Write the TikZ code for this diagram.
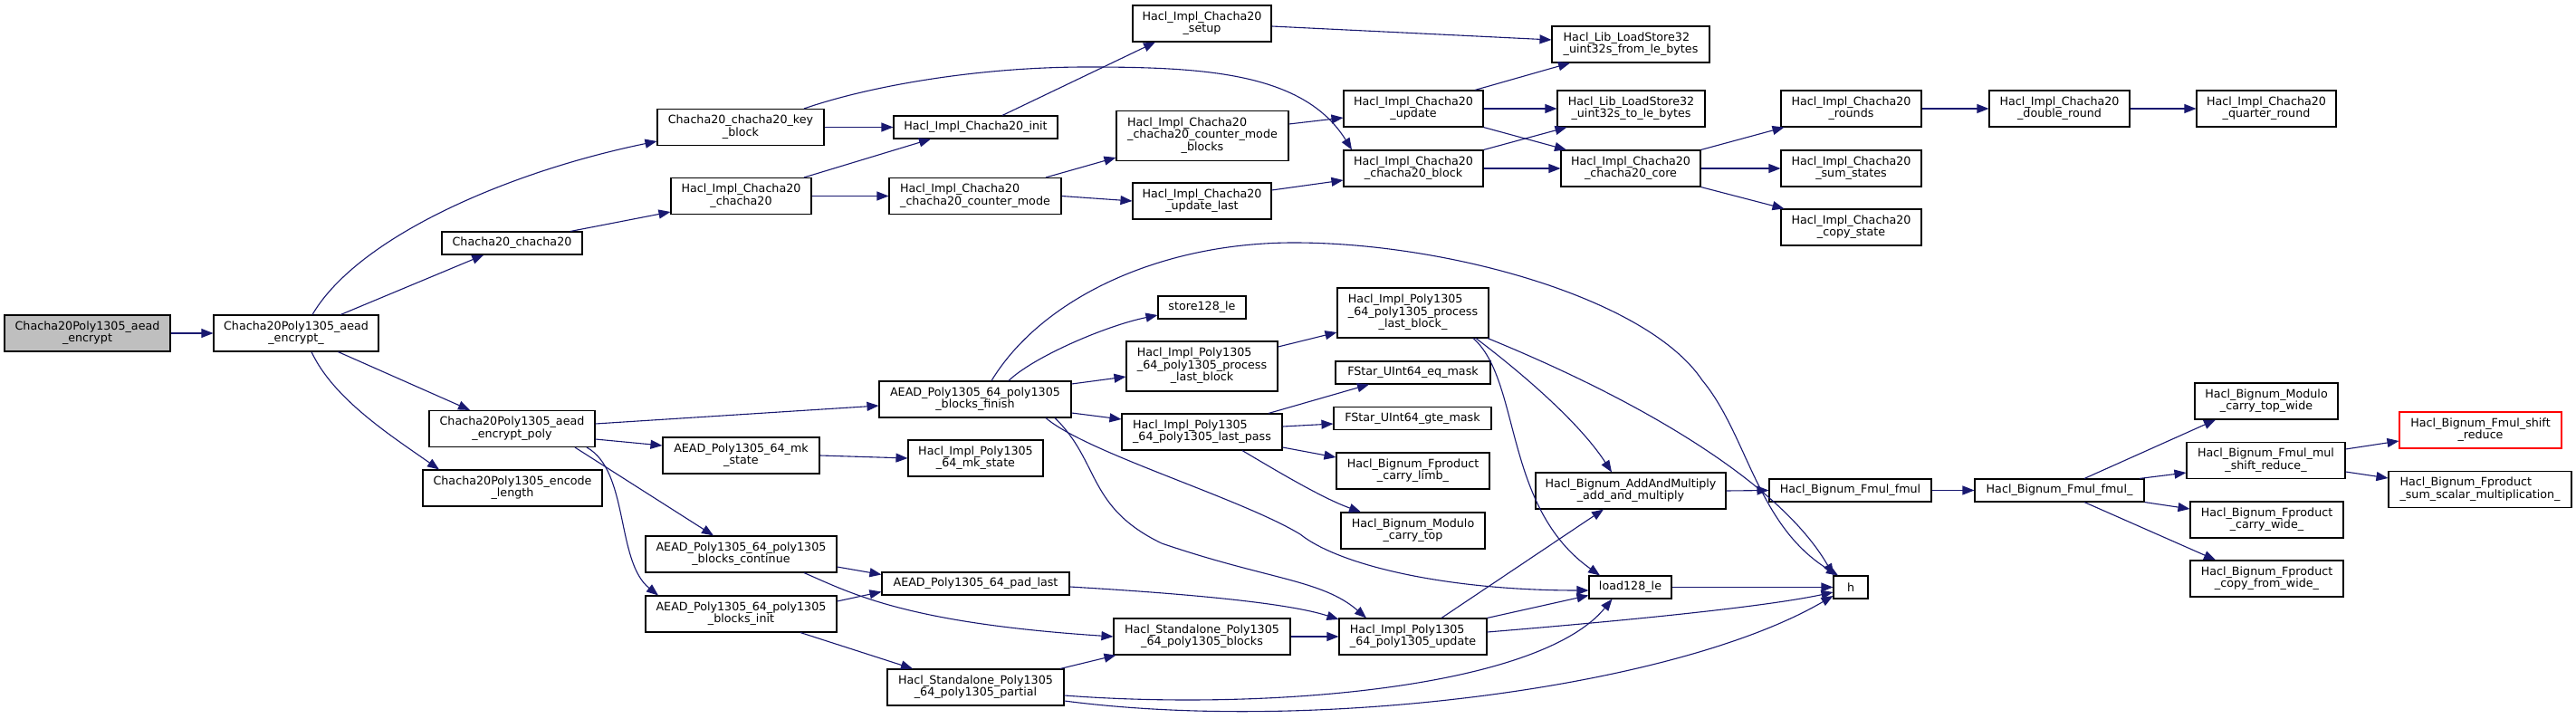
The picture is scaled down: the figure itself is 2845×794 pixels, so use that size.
\documentclass[tikz,border=0pt]{standalone}
\usepackage{fontspec}
\setmainfont{DejaVu Sans}
\usetikzlibrary{arrows.meta}
\definecolor{edgec}{HTML}{191970}
\definecolor{rootfill}{HTML}{BFBFBF}
\newcommand\mytwo[2]{\begin{tabular}{@{}l@{}}#1\\\multicolumn{1}{@{}c@{}}{#2}\end{tabular}}
\newcommand\mythree[3]{\begin{tabular}{@{}l@{}}#1\\#2\\\multicolumn{1}{@{}c@{}}{#3}\end{tabular}}
\begin{document}
\begin{tikzpicture}[x=1pt,y=-1pt,
  box/.style={draw=black,line width=1.1pt,fill=white,inner sep=0pt,text=black,
    font=\fontsize{12.7}{13.3}\selectfont},
  edg/.style={draw=edgec,line width=1.1pt,-{Triangle[length=13pt,width=10pt]}},
  hA/.style={minimum height=40pt},
  hB/.style={minimum height=25pt},
  hC/.style={minimum height=55pt}]
\path[use as bounding box,fill=white] (0,0) rectangle (2845,794);
% rank 1-2
\node[box,hA,minimum width=183pt,fill=rootfill] (root) at (96.5,368) {\mytwo{Chacha20Poly1305\_aead}{\_encrypt}};
\node[box,hA,minimum width=182pt] (encu) at (327,368) {\mytwo{Chacha20Poly1305\_aead}{\_encrypt\_}};
% rank 3
\node[box,hB,minimum width=155pt] (c20) at (565.5,268.5) {Chacha20\_chacha20};
\node[box,hA,minimum width=183pt] (poly) at (565.5,473.5) {\mytwo{Chacha20Poly1305\_aead}{\_encrypt\_poly}};
\node[box,hA,minimum width=198pt] (enclen) at (566,539) {\mytwo{Chacha20Poly1305\_encode}{\_length}};
% rank 4
\node[box,hA,minimum width=184pt] (keyblk) at (818,140.5) {\mytwo{Chacha20\_chacha20\_key}{\_block}};
\node[box,hA,minimum width=155pt] (ic20) at (818.5,216.5) {\mytwo{Hacl\_Impl\_Chacha20}{\_chacha20}};
\node[box,hA,minimum width=173pt] (mks) at (818.5,503) {\mytwo{AEAD\_Poly1305\_64\_mk}{\_state}};
\node[box,hA,minimum width=211pt] (bcont) at (818.5,612) {\mytwo{AEAD\_Poly1305\_64\_poly1305}{\_blocks\_continue}};
\node[box,hA,minimum width=211pt] (binit) at (818.5,678) {\mytwo{AEAD\_Poly1305\_64\_poly1305}{\_blocks\_init}};
% rank 5
\node[box,hB,minimum width=181pt] (init) at (1077.5,140.5) {Hacl\_Impl\_Chacha20\_init};
\node[box,hA,minimum width=190pt] (cm) at (1077,216.5) {\mytwo{Hacl\_Impl\_Chacha20}{\_chacha20\_counter\_mode}};
\node[box,hA,minimum width=212pt] (bfin) at (1077,441) {\mytwo{AEAD\_Poly1305\_64\_poly1305}{\_blocks\_finish}};
\node[box,hA,minimum width=149pt] (pmks) at (1077.5,506) {\mytwo{Hacl\_Impl\_Poly1305}{\_64\_mk\_state}};
\node[box,hB,minimum width=207pt] (pad) at (1077.5,644.5) {AEAD\_Poly1305\_64\_pad\_last};
\node[box,hA,minimum width=195pt] (spart) at (1077.5,759) {\mytwo{Hacl\_Standalone\_Poly1305}{\_64\_poly1305\_partial}};
% rank 6
\node[box,hA,minimum width=153pt] (setup) at (1327.5,26) {\mytwo{Hacl\_Impl\_Chacha20}{\_setup}};
\node[box,hC,minimum width=190pt] (cmb) at (1328,150) {\mythree{Hacl\_Impl\_Chacha20}{\_chacha20\_counter\_mode}{\_blocks}};
\node[box,hA,minimum width=153pt] (ulast) at (1327.5,222) {\mytwo{Hacl\_Impl\_Chacha20}{\_update\_last}};
\node[box,hB,minimum width=97pt] (st128) at (1327.5,339.5) {store128\_le};
\node[box,hC,minimum width=167pt] (plb) at (1327.5,404.5) {\mythree{Hacl\_Impl\_Poly1305}{\_64\_poly1305\_process}{\_last\_block}};
\node[box,hA,minimum width=177pt] (lpass) at (1327.5,477) {\mytwo{Hacl\_Impl\_Poly1305}{\_64\_poly1305\_last\_pass}};
\node[box,hA,minimum width=195pt] (sblk) at (1327.5,703) {\mytwo{Hacl\_Standalone\_Poly1305}{\_64\_poly1305\_blocks}};
% rank 7
\node[box,hA,minimum width=154pt] (upd) at (1561,120) {\mytwo{Hacl\_Impl\_Chacha20}{\_update}};
\node[box,hA,minimum width=154pt] (blk) at (1561,186) {\mytwo{Hacl\_Impl\_Chacha20}{\_chacha20\_block}};
\node[box,hC,minimum width=167pt] (plbu) at (1560.5,345.5) {\mythree{Hacl\_Impl\_Poly1305}{\_64\_poly1305\_process}{\_last\_block\_}};
\node[box,hB,minimum width=171pt] (eqm) at (1560.5,411.5) {FStar\_UInt64\_eq\_mask};
\node[box,hB,minimum width=174pt] (gtem) at (1560,462) {FStar\_UInt64\_gte\_mask};
\node[box,hA,minimum width=169pt] (climb) at (1560.5,520) {\mytwo{Hacl\_Bignum\_Fproduct}{\_carry\_limb\_}};
\node[box,hA,minimum width=159pt] (mct) at (1560.5,586) {\mytwo{Hacl\_Bignum\_Modulo}{\_carry\_top}};
\node[box,hA,minimum width=163pt] (pupd) at (1560.5,703) {\mytwo{Hacl\_Impl\_Poly1305}{\_64\_poly1305\_update}};
% rank 8
\node[box,hA,minimum width=174pt] (lsfrom) at (1801,49) {\mytwo{Hacl\_Lib\_LoadStore32}{\_uint32s\_from\_le\_bytes}};
\node[box,hA,minimum width=163pt] (lsto) at (1801.5,120) {\mytwo{Hacl\_Lib\_LoadStore32}{\_uint32s\_to\_le\_bytes}};
\node[box,hA,minimum width=154pt] (core) at (1801,186) {\mytwo{Hacl\_Impl\_Chacha20}{\_chacha20\_core}};
\node[box,hA,minimum width=210pt] (aam) at (1801,542) {\mytwo{Hacl\_Bignum\_AddAndMultiply}{\_add\_and\_multiply}};
\node[box,hB,minimum width=91pt] (ld128) at (1800.5,648.5) {load128\_le};
% rank 9
\node[box,hA,minimum width=155pt] (rounds) at (2044.5,120) {\mytwo{Hacl\_Impl\_Chacha20}{\_rounds}};
\node[box,hA,minimum width=155pt] (sums) at (2044.5,186) {\mytwo{Hacl\_Impl\_Chacha20}{\_sum\_states}};
\node[box,hA,minimum width=155pt] (copys) at (2044.5,251) {\mytwo{Hacl\_Impl\_Chacha20}{\_copy\_state}};
\node[box,hB,minimum width=179pt] (fmul) at (2043.5,541.5) {Hacl\_Bignum\_Fmul\_fmul};
\node[box,hB,minimum width=38pt] (h) at (2044,648.5) {h};
% rank 10
\node[box,hA,minimum width=155pt] (dround) at (2274.5,120) {\mytwo{Hacl\_Impl\_Chacha20}{\_double\_round}};
\node[box,hB,minimum width=187pt] (fmulu) at (2274.5,541.5) {Hacl\_Bignum\_Fmul\_fmul\_};
% rank 11
\node[box,hA,minimum width=154pt] (qround) at (2503,120) {\mytwo{Hacl\_Impl\_Chacha20}{\_quarter\_round}};
\node[box,hA,minimum width=158pt] (mctw) at (2503,443) {\mytwo{Hacl\_Bignum\_Modulo}{\_carry\_top\_wide}};
\node[box,hA,minimum width=175pt] (msr) at (2502.5,508.5) {\mytwo{Hacl\_Bignum\_Fmul\_mul}{\_shift\_reduce\_}};
\node[box,hA,minimum width=169pt] (cwide) at (2503.5,574) {\mytwo{Hacl\_Bignum\_Fproduct}{\_carry\_wide\_}};
\node[box,hA,minimum width=169pt] (cfw) at (2503.5,639) {\mytwo{Hacl\_Bignum\_Fproduct}{\_copy\_from\_wide\_}};
% rank 12
\node[box,hA,minimum width=179pt,draw=red] (sred) at (2739.5,475) {\mytwo{Hacl\_Bignum\_Fmul\_shift}{\_reduce}};
\node[box,hA,minimum width=202pt] (ssm) at (2739,540.5) {\mytwo{Hacl\_Bignum\_Fproduct}{\_sum\_scalar\_multiplication\_}};

% edges
\draw[edg] (root.east) -- (encu.west);
\draw[edg] ([xshift=18pt]encu.north) .. controls (395,262) and (560,190) .. ([yshift=-15.5pt]keyblk.west);
\draw[edg] (encu) -- (c20);
\draw[edg] (encu) -- (poly);
\draw[edg] ([xshift=17pt]encu.south) .. controls (368,440) and (430,480) .. ([xshift=-81pt]enclen.north);
\draw[edg] ([xshift=64.5pt]c20.north) -- ([yshift=-17.5pt]ic20.west);
\draw[edg] (keyblk.east) -- (init.west);
\draw[edg] ([xshift=70pt]keyblk.north) .. controls (960,95) and (1080,74) .. (1200,74)
   .. controls (1330,74) and (1440,80) .. ([xshift=-68pt]blk.north);
\draw[edg] ([xshift=69.5pt]ic20.north) -- ([xshift=-49.5pt]init.south);
\draw[edg] (ic20.east) -- (cm.west);
\draw[edg] ([xshift=29.5pt]init.north) -- ([xshift=-51.5pt]setup.south);
\draw[edg] ([yshift=-3pt]setup.east) -- ([yshift=5pt]lsfrom.west);
\draw[edg] ([xshift=78pt]cm.north) -- ([yshift=-24pt]cmb.west);
\draw[edg] (cm.east) -- (ulast.west);
\draw[edg] ([yshift=13pt]cmb.east) -- ([yshift=-10pt]upd.west);
\draw[edg] ([yshift=12pt]ulast.east) -- ([yshift=-13pt]blk.west);
\draw[edg] ([xshift=68pt]upd.north) -- ([xshift=-67pt]lsfrom.south);
\draw[edg] (upd.east) -- (lsto.west);
\draw[edg] (upd.south east) -- ([xshift=-71pt]core.north);
\draw[edg] (blk.north east) -- ([xshift=-71pt]lsto.south);
\draw[edg] (blk.east) -- (core.west);
\draw[edg] (core.north east) -- ([xshift=-74pt]rounds.south);
\draw[edg] (core.east) -- (sums.west);
\draw[edg] (core.south east) -- ([xshift=-74pt]copys.north);
\draw[edg] (rounds.east) -- (dround.west);
\draw[edg] (dround.east) -- (qround.west);
% poly part
\draw[edg] ([yshift=5.5pt]poly.east) -- ([yshift=-7pt]bfin.west);
\draw[edg] ([yshift=-11.5pt]poly.east) -- ([yshift=11pt]mks.west);
\draw[edg] ([xshift=69.5pt]poly.south) -- ([xshift=-30.5pt]bcont.north);
\draw[edg] ([xshift=82.5pt]poly.south) .. controls (695,520) and (680,620) .. ([xshift=-91.5pt]binit.north);
\draw[edg] (mks.east) -- (pmks.west);
\draw[edg] ([yshift=-14pt]bcont.east) -- ([yshift=10pt]pad.west);
\draw[edg] ([xshift=69.5pt]bcont.south) .. controls (940,655) and (1000,688) .. (sblk.west);
\draw[edg] ([yshift=14pt]binit.east) -- ([yshift=-9pt]pad.west);
\draw[edg] ([xshift=65.5pt]binit.south) -- ([xshift=-69.5pt]spart.north);
\draw[edg] ([xshift=37pt]bfin.north) .. controls (1140,395) and (1220,360) .. ([yshift=-8.5pt]st128.west);
\draw[edg] ([xshift=18pt]bfin.north) .. controls (1150,330) and (1280,268) .. (1429,268)
   .. controls (1600,268) and (1820,330) .. (1880,420)
   .. controls (1930,480) and (1940,580) .. ([xshift=-14pt]h.north);
\draw[edg] ([yshift=17pt]bfin.east) -- ([yshift=-11.5pt]plb.west);
\draw[edg] ([yshift=-15pt]bfin.east) -- ([yshift=14pt]lpass.west);
\draw[edg] ([xshift=78pt]bfin.south) .. controls (1200,500) and (1370,550) .. (1436,590)
   .. controls (1480,625) and (1600,652) .. ([yshift=-3.5pt]ld128.west);
\draw[edg] ([xshift=88pt]bfin.south) .. controls (1215,510) and (1200,560) .. (1283,600)
   .. controls (1400,640) and (1460,640) .. ([xshift=-51.5pt]pupd.north);
\draw[edg] ([xshift=73.5pt]lpass.north) -- ([xshift=-48.5pt]eqm.south);
\draw[edg] ([yshift=6pt]lpass.east) -- ([yshift=-6pt]gtem.west);
\draw[edg] ([yshift=-17pt]lpass.east) -- ([yshift=15pt]climb.west);
\draw[edg] ([xshift=44.5pt]lpass.south) .. controls (1410,520) and (1460,550) .. ([xshift=-57.5pt]mct.north);
\draw[edg] ([yshift=21.5pt]plb.east) -- ([yshift=-21.5pt]plbu.west);
\draw[edg] ([xshift=69.5pt]plbu.south) .. controls (1665,400) and (1740,460) .. ([xshift=-21pt]aam.north);
\draw[edg] ([xshift=66.5pt]plbu.south) .. controls (1680,420) and (1660,560) .. ([xshift=-33.5pt]ld128.north);
\draw[edg] ([xshift=82.5pt]plbu.south) .. controls (1830,450) and (1970,540) .. ([xshift=-19pt]h.north);
\draw[edg] ([yshift=-3.5pt]pad.east) .. controls (1300,655) and (1420,665) .. ([yshift=19pt]pupd.west);
\draw[edg] (sblk.east) -- (pupd.west);
\draw[edg] ([xshift=93.5pt]spart.north) -- ([xshift=-95pt]sblk.south);
\draw[edg] ([yshift=-9pt]spart.east) .. controls (1400,785) and (1700,760) .. ([xshift=-20pt]ld128.south);
\draw[edg] ([yshift=-15pt]spart.east) .. controls (1450,810) and (1850,760) .. ([yshift=-9.5pt]h.west);
\draw[edg] ([xshift=31.5pt]pupd.north) -- ([xshift=-30pt]aam.south);
\draw[edg] (pupd.north east) -- ([yshift=-9pt]ld128.west);
\draw[edg] ([yshift=5pt]pupd.east) .. controls (1800,685) and (1950,670) .. ([yshift=-5.5pt]h.west);
\draw[edg] (ld128.east) -- (h.west);
\draw[edg] (aam.east) -- (fmul.west);
\draw[edg] (fmul.east) -- (fmulu.west);
\draw[edg] ([xshift=27.5pt]fmulu.north) -- ([xshift=-56pt]mctw.south);
\draw[edg] ([xshift=88.5pt]fmulu.north) -- ([yshift=-13.5pt]msr.west);
\draw[edg] (fmulu.south east) -- ([yshift=12pt]cwide.west);
\draw[edg] ([xshift=27.5pt]fmulu.south) -- ([xshift=-56.5pt]cfw.north);
\draw[edg] ([yshift=12.5pt]msr.east) -- ([yshift=-12pt]sred.west);
\draw[edg] ([yshift=-12.5pt]msr.east) -- ([yshift=12.5pt]ssm.west);
\end{tikzpicture}
\end{document}
